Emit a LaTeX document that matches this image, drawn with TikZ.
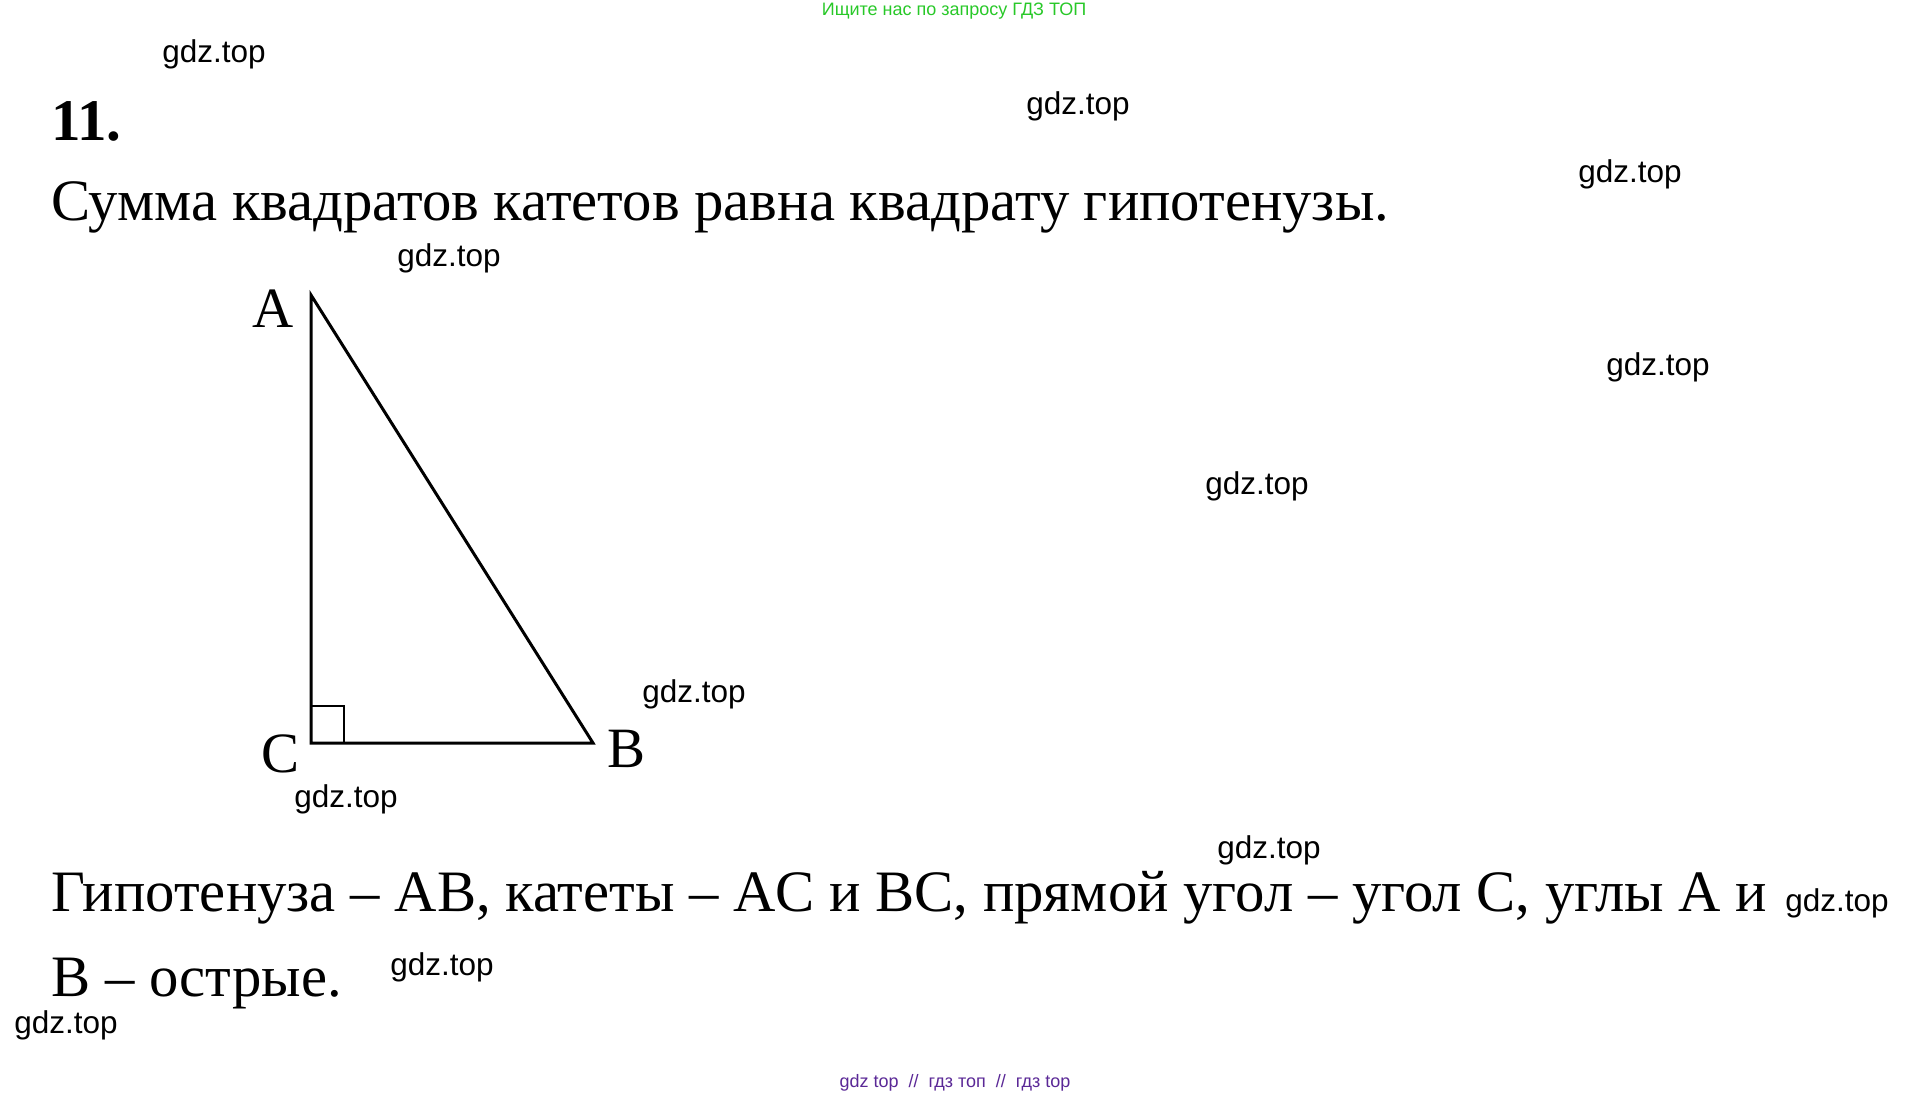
\documentclass[tikz,border=0pt]{standalone}
\usepackage{fontspec}
\setmainfont{Liberation Serif}
\newfontfamily\wmfont{Liberation Sans}
\usetikzlibrary{positioning}

\definecolor{topgreen}{RGB}{40,200,40}
\definecolor{botpurple}{RGB}{90,40,150}

\tikzset{
  wm/.style={font=\wmfont\fontsize{31.5}{31.5}\selectfont, inner sep=0pt},
  txt/.style={font=\fontsize{58.7}{58.7}\selectfont, anchor=base west, inner sep=0pt},
  vlabel/.style={font=\fontsize{57}{57}\selectfont, anchor=base, inner sep=0pt},
  side/.style={line width=3pt, line join=miter}
}

\begin{document}
\begin{tikzpicture}[x=1pt,y=-1pt]
  \useasboundingbox (0,0) rectangle (1910,1097);

  % Draw header and footer lines
  \node[font=\wmfont\fontsize{18}{18}\selectfont, text=topgreen, inner sep=0pt] (head) at (954,11) {Ищите нас по запросу ГДЗ ТОП};
  \node[font=\wmfont\fontsize{18}{18}\selectfont, text=botpurple, inner sep=0pt] (foot) at (955,1083) {gdz top \ // \ гдз топ \ // \ гдз top};

  % Draw task number and statement
  \node[txt, font=\bfseries\fontsize{59}{59}\selectfont] (num) at (51,140) {11.};
  \node[txt] (line1) at (51,220) {Сумма квадратов катетов равна квадрату гипотенузы.};

  % Draw triangle vertices
  \coordinate (A) at (311,295);
  \coordinate (C) at (311,743);
  \coordinate (B) at (593,743);

  % Draw triangle sides
  \draw[side] (A) -- (B) -- (C) -- cycle;

  % Draw right angle mark at C
  \draw[line width=2pt] ([yshift=37pt]C) -| ([xshift=33pt]C);

  % Draw vertex labels
  \node[vlabel] (labA) at (273,327) {A};
  \node[vlabel] (labC) at (281,772) {C};
  \node[vlabel] (labB) at (627,767) {B};

  % Draw answer text
  \node[txt] (line2) at (51,911) {Гипотенуза – AB, катеты – AC и BC, прямой угол – угол C, углы A и};
  \node[txt, text depth=0pt] (line3) at (51,996) {B – острые.};

  % Draw watermarks
  \node[wm] (wm1)  at (214,54)   {gdz.top};
  \node[wm] (wm2)  at (1078,106) {gdz.top};
  \node[wm] (wm3)  at (1630,174) {gdz.top};
  \node[wm] (wm4)  at (449,258)  {gdz.top};
  \node[wm] (wm5)  at (1658,367) {gdz.top};
  \node[wm] (wm6)  at (1257,486) {gdz.top};
  \node[wm] (wm7)  at (694,694)  {gdz.top};
  \node[wm] (wm8)  at (346,799)  {gdz.top};
  \node[wm] (wm9)  at (1269,850) {gdz.top};
  \node[wm] (wm10) at (1837,903) {gdz.top};
  \node[wm] (wm11) at (442,967)  {gdz.top};
  \node[wm] (wm12) at (66,1025)  {gdz.top};
\end{tikzpicture}
\end{document}
